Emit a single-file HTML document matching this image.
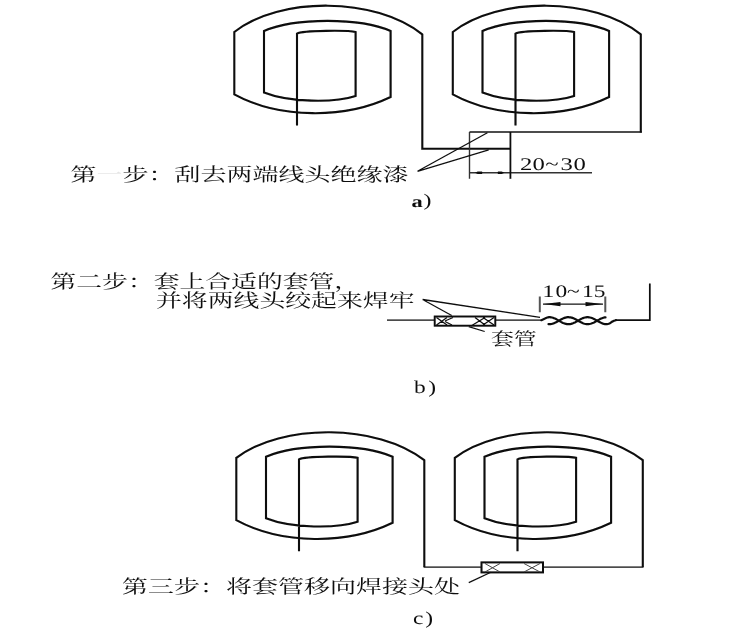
<!DOCTYPE html>
<html lang="zh"><head><meta charset="utf-8"><title>线圈接线步骤</title>
<style>
html,body{margin:0;padding:0;background:#fff;}
body{width:744px;height:635px;overflow:hidden;font-family:"Liberation Serif",serif;}
svg{display:block;}
.ln path,.ln rect{fill:none;stroke:#0a0a0a;stroke-width:2.1;stroke-linejoin:miter;}
.ln .box{stroke-width:1.9;}
.ln .mid{stroke-width:1.5;}
.ln .box2{stroke-width:2;}
.thin path{fill:none;stroke:#111;stroke-width:1.3;}
.gray{fill:none;stroke:#555;stroke-width:2;}
.fill{fill:#111;stroke:none;}
.tw path{fill:none;stroke:#111;stroke-width:2.2;stroke-linecap:round;}
.cjk{font-family:"Liberation Serif","Noto Serif CJK SC",serif;fill:#111;stroke:none;}
.lat{font-family:"Liberation Serif",serif;fill:#111;text-rendering:geometricPrecision;}
</style></head><body>
<svg width="744" height="635" viewBox="0 0 744 635">
<defs><filter id="soft" x="0" y="0" width="744" height="635" filterUnits="userSpaceOnUse"><feGaussianBlur stdDeviation="0.5"/></filter></defs>
<rect width="744" height="635" fill="#fff"/>
<g id="art" filter="url(#soft)">
<g class="ln">
<path d="M297,125.5 V33.6 C303,30.2 349,30.2 355.6,32 V96 C335,102.8 290,102.8 264,92.5 V31 C295,17.5 360,17.5 390.6,31 V97 C345,119 280,119 234.3,94.3 V32 C280,-3.5 375,-3.5 422.3,34.4 V148.7 H510.4"/>
<path transform="translate(218.5 0)" d="M297,125.5 V33.6 C303,30.2 349,30.2 355.6,32 V96 C335,102.8 290,102.8 264,92.5 V31 C295,17.5 360,17.5 390.6,31 V97 C345,119 280,119 234.3,94.3 V32 C280,-3.5 375,-3.5 422.3,34.4 V132.6"/>
<path class="mid" d="M641.8,132 H469.5"/>
</g>
<g class="thin">
<path style="stroke:#333;stroke-width:1.4" d="M469.5,132 V178.8 M469.5,172.8 H592"/><path d="M510.4,132 V178.8" style="stroke-width:1.8;stroke:#111"/>
<path d="M417.5,171.3 L487.4,132.8 M417.5,171.3 L488.7,149.8"/>
</g>
<path class="fill" d="M474.8,172.8 l3,-1.2 h4.2 q1,1.2 0,2.4 h-4.2 z M504.6,172.8 l-3,-1.2 h-3.6 q-1,1.2 0,2.4 h3.6 z"/>
<text class="cjk" x="70.5" y="181.0" font-size="18.5" textLength="338.0" lengthAdjust="spacingAndGlyphs">第<tspan opacity="0.1">一</tspan>步：刮去两端线头绝缘漆</text>
<text class="lat" transform="scale(1.3800 1)" x="376.81 385.87 395.14 406.09 415.51" y="169.90" font-size="17.90">20~30</text>
<text class="lat" transform="translate(411.5 207.2) scale(1.36 1)" font-size="16.5"><tspan font-weight="bold">a</tspan><tspan dx="0.6" dy="-0.8" font-size="17.5">)</tspan></text>
<text class="cjk" x="50.5" y="288.2" font-size="18.5" textLength="309.6" lengthAdjust="spacingAndGlyphs">第二步：套上合适的套管，</text>
<text class="cjk" x="156.0" y="307.2" font-size="18.5" textLength="258.5" lengthAdjust="spacingAndGlyphs">并将两线头绞起来焊牢</text>
<g class="ln">
<path d="M387,320.2 H434 M496,320.2 H541" style="stroke-width:1.25"/><path d="M615,320.2 H649.8 V283.5" style="stroke-width:1.7"/>
<rect x="434.7" y="316.5" width="60.6" height="9.2" class="box"/>
</g>
<g class="thin">
<path d="M436.5,317.5 L447,325 M436.5,325 L447,317.5 M445,321 L453,317.5 M445,321.5 L452,325 M471,326 L485,317.5 M475,317.5 L485,325 M483,325 L494,317.5 M483,317.5 L494,325"/>
<path d="M422.6,299.5 L451.7,315.5 M422.6,299.5 L540,317.3 M468.7,326.7 L484.7,331.5"/>
<path d="M543,304.2 H603"/>
</g>
<path class="gray" d="M539.8,296.6 V312.3 M605.3,296.6 V312.3"/>
<path class="fill" d="M543.5,304.1 l17,-2.1 v4.2 z M602.5,304.1 l-17,-2.1 v4.2 z"/>
<g class="tw"><path d="M541.4,320.2 L543.5,319.2 L546.0,318.0 L548.0,317.3 L549.0,317.2 L550.0,317.2 L551.0,317.3 L552.0,317.5 L553.0,317.8 L554.0,318.2 L555.0,318.6 L556.0,319.1 L557.0,319.6 L558.0,320.2 L559.0,320.8 L560.0,321.3 L561.0,321.9 L562.0,322.4 L563.0,322.9 L564.0,323.3 L565.0,323.7 L566.0,323.9 L567.0,324.1 L568.0,324.2 L569.0,324.2 L570.0,324.1 L571.0,323.9 L572.0,323.6 L573.0,323.3 L574.0,322.8 L575.0,322.4 L576.0,321.8 L577.0,321.3 L578.0,320.7 L579.0,320.1 L580.0,319.6 L581.0,319.0 L582.0,318.6 L583.0,318.1 L584.0,317.8 L585.0,317.5 L586.0,317.3 L587.0,317.2 L588.0,317.2 L589.0,317.3 L590.0,317.5 L591.0,317.7 L592.0,318.1 L593.0,318.5 L594.0,319.0 L595.0,319.5 L596.0,320.1 L597.0,320.6 L598.0,321.2 L599.0,321.8 L600.0,322.3 L601.0,322.8 L602.0,323.2 L603.0,323.6 L604.0,323.9 L605.0,324.1 L606.0,324.2 L607.0,324.2 L609.5,323.6 L612.0,321.8 L614.0,320.7 L616.0,320.2"/><path d="M548.5,324.2 L549.5,324.2 L550.5,324.1 L551.5,324.0 L552.5,323.7 L553.5,323.4 L554.5,323.0 L555.5,322.6 L556.5,322.0 L557.5,321.5 L558.5,320.9 L559.5,320.4 L560.5,319.8 L561.5,319.2 L562.5,318.7 L563.5,318.3 L564.5,317.9 L565.5,317.6 L566.5,317.4 L567.5,317.2 L568.5,317.2 L569.5,317.3 L570.5,317.4 L571.5,317.6 L572.5,317.9 L573.5,318.3 L574.5,318.8 L575.5,319.3 L576.5,319.8 L577.5,320.4 L578.5,321.0 L579.5,321.6 L580.5,322.1 L581.5,322.6 L582.5,323.1 L583.5,323.5 L584.5,323.8 L585.5,324.0 L586.5,324.1 L587.5,324.2 L588.5,324.2 L589.5,324.0 L590.5,323.8 L591.5,323.5 L592.5,323.1 L593.5,322.7 L594.5,322.2 L595.5,321.6 L596.5,321.0 L597.5,320.5 L598.5,319.9 L599.5,319.4 L600.5,318.8 L601.5,318.4 L602.5,318.0 L603.5,317.7 L604.5,317.4 L605.5,317.3"/></g>
<text class="cjk" x="491.0" y="344.6" font-size="17.4" textLength="45.6" lengthAdjust="spacingAndGlyphs">套管</text>
<text class="lat" transform="scale(1.3300 1)" x="407.82 417.59 426.32 437.59 446.47" y="297.20" font-size="17.60">10~15</text>
<text class="lat" transform="translate(414 393.2) scale(1.3 1)" font-size="18">b<tspan dx="2" dy="-0.4">)</tspan></text>
<g class="ln" transform="translate(2 425.8)">
<path d="M297,125.5 V33.6 C303,30.2 349,30.2 355.6,32 V96 C335,102.8 290,102.8 264,92.5 V31 C295,17.5 360,17.5 390.6,31 V97 C345,119 280,119 234.3,94.3 V32 C280,-2.4 375,-2.4 422.3,34.4 V141.3"/>
<path transform="translate(218.5 0)" d="M297,125.5 V33.6 C303,30.2 349,30.2 355.6,32 V96 C335,102.8 290,102.8 264,92.5 V31 C295,17.5 360,17.5 390.6,31 V97 C345,119 280,119 234.3,94.3 V32 C280,-2.4 375,-2.4 422.3,34.4 V141.3"/>
<path style="stroke-width:1.3" d="M421.6,141.3 H479 M541,141.3 H641.5"/>
<rect x="479.5" y="136.6" width="61.5" height="10" class="box2"/>
</g>
<g class="thin">
<path style="stroke:#444;stroke-width:1" d="M485,563.5 L500,572 M485,572 L500,563.5 M524,563.5 L540,572 M524,572 L540,563.5"/>
<path d="M468.8,582.7 L491.4,572"/>
</g>
<text class="cjk" x="122.0" y="593.0" font-size="18.5" textLength="338.0" lengthAdjust="spacingAndGlyphs">第三步：将套管移向焊接头处</text>
<text class="lat" transform="translate(413 623.7) scale(1.3 1)" font-size="18">c<tspan dx="1.5">)</tspan></text>
</g>
</svg>
</body></html>
